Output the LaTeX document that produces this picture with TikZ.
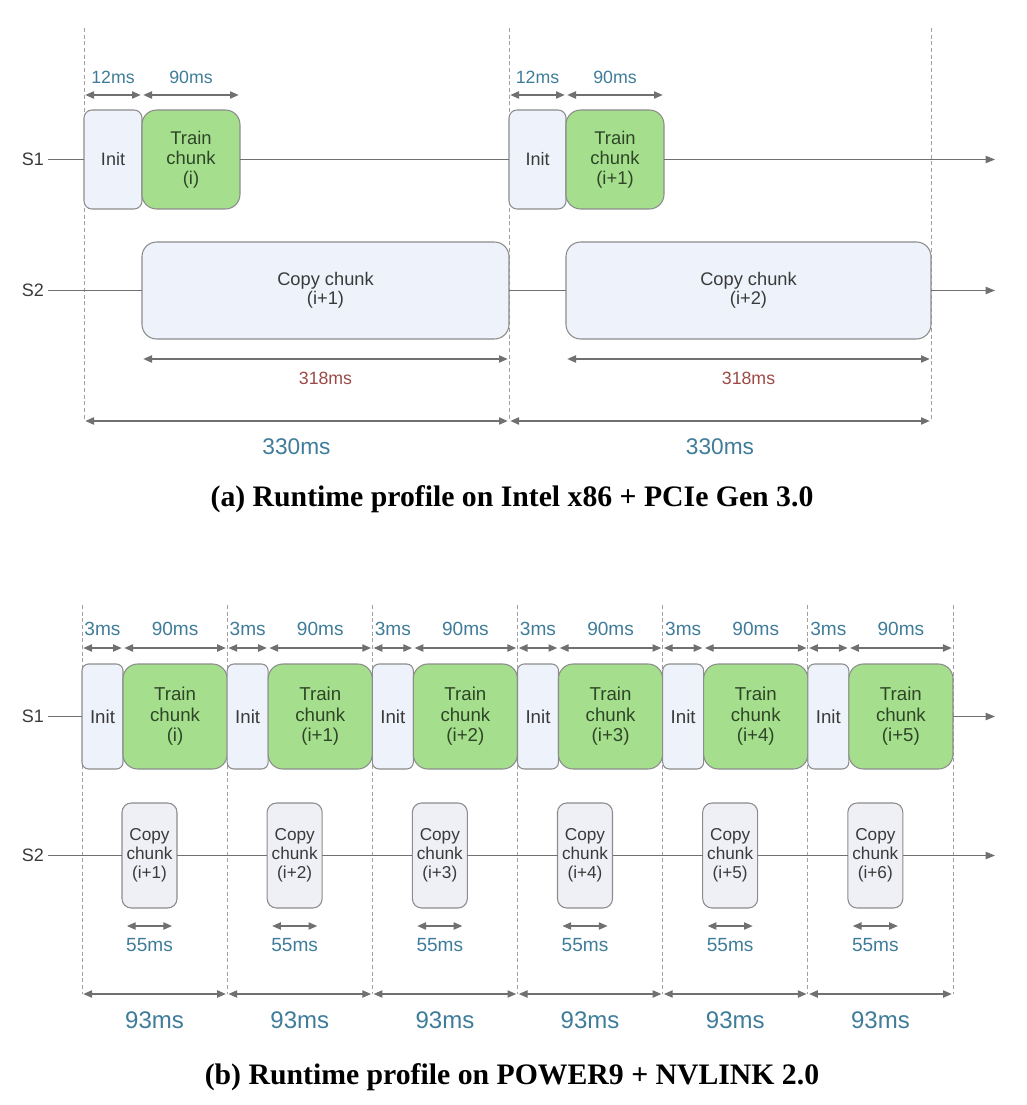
\documentclass[tikz,border=0pt]{standalone}
\usepackage{fontspec}
\setmainfont{Liberation Serif}
\newfontfamily\dfont{Liberation Sans}
\usetikzlibrary{arrows.meta}
\definecolor{boxborder}{HTML}{8C8C8C}
\definecolor{initfill}{HTML}{EEF2FA}
\definecolor{copyfill}{HTML}{EEF3FB}
\definecolor{bcopyfill}{HTML}{EEF0F6}
\definecolor{greenfill}{HTML}{A5DF8D}
\definecolor{greentxt}{HTML}{2E4627}
\definecolor{txtdark}{HTML}{3A3A3A}
\definecolor{lblue}{HTML}{3F7C99}
\definecolor{lred}{HTML}{9C4A47}
\definecolor{linegray}{HTML}{707070}
\definecolor{dashgray}{HTML}{A0A0A0}
\begin{document}
\begin{tikzpicture}[x=0.75pt,y=-0.75pt,
  box/.style={draw=boxborder, line width=0.8pt, inner sep=0pt, outer sep=0pt,
    anchor=north west, align=center, text=txtdark},
  ainit/.style={box, fill=initfill, rounded corners=6pt, minimum height=74.25pt,
    font=\dfont\fontsize{13.5}{15}\selectfont},
  atrain/.style={box, fill=greenfill, rounded corners=11pt, minimum width=73.5pt,
    minimum height=74.25pt, text=greentxt, font=\dfont\fontsize{13.8}{15}\selectfont},
  acopy/.style={box, fill=copyfill, rounded corners=11pt, minimum height=72.75pt,
    font=\dfont\fontsize{13.7}{14.25}\selectfont},
  binit/.style={box, fill=initfill, rounded corners=5pt, minimum width=30.75pt,
    minimum height=78.75pt, font=\dfont\fontsize{14}{15.4}\selectfont},
  btrain/.style={box, fill=greenfill, rounded corners=11pt, minimum width=78.1pt,
    minimum height=78.75pt, text=greentxt, font=\dfont\fontsize{14}{15.4}\selectfont},
  bcopy/.style={box, fill=bcopyfill, rounded corners=7pt, minimum width=41.25pt,
    minimum height=78.75pt, font=\dfont\fontsize{12.9}{14.25}\selectfont},
  stream/.style={font=\dfont\fontsize{13.5}{15}\selectfont, text=txtdark, inner sep=1pt},
  tline/.style={draw=linegray, line width=0.8pt},
  tarrow/.style={tline, -{Triangle[length=7pt,width=5.5pt]}},
  dim/.style={draw=linegray, line width=0.8pt,
    {Triangle[length=6.5pt,width=5.5pt]}-{Triangle[length=6.5pt,width=5.5pt]},
    shorten >=1pt, shorten <=1pt},
  guide/.style={draw=dashgray, dashed, dash pattern=on 3pt off 2pt, line width=0.6pt},
  tl/.style={font=\dfont\fontsize{13.3}{15}\selectfont, text=lblue, inner sep=0pt},
  tlb/.style={font=\dfont\fontsize{14.3}{15}\selectfont, text=lblue, inner sep=0pt},
  tlred/.style={font=\dfont\fontsize{13.3}{15}\selectfont, text=lred, inner sep=0pt},
  tlbig/.style={font=\dfont\fontsize{17}{19}\selectfont, text=lblue, inner sep=0pt},
  tlbigb/.style={font=\dfont\fontsize{18}{20}\selectfont, text=lblue, inner sep=0pt},
  caption/.style={font=\bfseries\fontsize{22.3}{24}\selectfont, inner sep=0pt}
]
\useasboundingbox (0,0) rectangle (1026,1105);

% ---------------- (a) ----------------
\coordinate (gat1) at (84,28);  \coordinate (gab1) at (84,421);
\coordinate (gat2) at (509,28); \coordinate (gab2) at (509,421);
\coordinate (gat3) at (931,28); \coordinate (gab3) at (931,421);
\draw[guide] (gat1) -- (gab1);
\draw[guide] (gat2) -- (gab2);
\draw[guide] (gat3) -- (gab3);

\node[stream] (s1a) at (33,159.5) {S1};
\node[stream] (s2a) at (33,290.5) {S2};
\coordinate (s1aend) at (995,159.5);
\coordinate (s2aend) at (995,290.5);

\node[ainit, minimum width=43.5pt] (ia1) at (84,110) {Init};
\node[atrain] (ta1) at (142,110) {Train\\chunk\\(i)};
\node[ainit, minimum width=42.75pt] (ia2) at (509,110) {Init};
\node[atrain] (ta2) at (566,110) {Train\\chunk\\(i+1)};
\node[acopy, minimum width=275.25pt] (ca1) at (142,242) {Copy chunk\\(i+1)};
\node[acopy, minimum width=273.75pt] (ca2) at (566,242) {Copy chunk\\(i+2)};

\draw[tline] (s1a.east) ++(2pt,0) -- (ia1.west);
\draw[tline] (ta1.east) -- (ia2.west);
\draw[tarrow] (ta2.east) -- (s1aend);
\draw[tline] (s2a.east) ++(2pt,0) -- (ca1.west);
\draw[tline] (ca1.east) -- (ca2.west);
\draw[tarrow] (ca2.east) -- (s2aend);

\draw[dim] ([yshift=11.25pt]ia1.north west) -- node[tl, yshift=13.5pt]{12ms} ([yshift=11.25pt]ia1.north east);
\draw[dim] ([yshift=11.25pt]ta1.north west) -- node[tl, yshift=13.5pt]{90ms} ([yshift=11.25pt]ta1.north east);
\draw[dim] ([yshift=11.25pt]ia2.north west) -- node[tl, yshift=13.5pt]{12ms} ([yshift=11.25pt]ia2.north east);
\draw[dim] ([yshift=11.25pt]ta2.north west) -- node[tl, yshift=13.5pt]{90ms} ([yshift=11.25pt]ta2.north east);

\draw[dim] ([yshift=-15pt]ca1.south west) -- node[tlred, yshift=-14.25pt]{318ms} ([yshift=-15pt]ca1.south east);
\draw[dim] ([yshift=-15pt]ca2.south west) -- node[tlred, yshift=-14.25pt]{318ms} ([yshift=-15pt]ca2.south east);

\draw[dim] (gab1) -- node[tlbig, yshift=-19.5pt]{330ms} (gab2);
\draw[dim] (gab2) -- node[tlbig, yshift=-19.5pt]{330ms} (gab3);

\node[caption] (capa) at (512,499) {(a) Runtime profile on Intel x86 + PCIe Gen 3.0};

% ---------------- (b) ----------------
\foreach \k in {0,...,6} {
  \pgfmathsetmacro\gx{82+145.1667*\k}
  \coordinate (gbt\k) at (\gx,605);
  \coordinate (gbb\k) at (\gx,994);
  \draw[guide] (gbt\k) -- (gbb\k);
}

\node[stream] (s1b) at (33,716.5) {S1};
\node[stream] (s2b) at (33,855.5) {S2};
\coordinate (s1bend) at (995,716.5);
\coordinate (s2bend) at (995,855.5);

\foreach \k in {0,...,5} {
  \pgfmathsetmacro\gx{82+145.1667*\k}
  \pgfmathtruncatemacro\n{\k+1}
  \node[binit] (ib\k) at (\gx,664) {Init};
  \node[btrain] (tb\k) at (\gx+41,664) {Train\\chunk\\(\ifnum\k=0 i\else i+\k\fi)};
  \node[bcopy] (cb\k) at (\gx+40,803) {Copy\\chunk\\(i+\n)};
  \draw[dim] ([yshift=12pt]ib\k.north west) -- node[tlb, yshift=14.25pt]{3ms} ([yshift=12pt]ib\k.north east);
  \draw[dim] ([yshift=12pt]tb\k.north west) -- node[tlb, yshift=14.25pt]{90ms} ([yshift=12pt]tb\k.north east);
  \draw[dim, shorten >=3.75pt, shorten <=3.75pt] ([yshift=-13.5pt]cb\k.south west) -- node[tlb, yshift=-14.25pt]{55ms} ([yshift=-13.5pt]cb\k.south east);
  \draw[dim] (gbb\k) -- node[tlbigb, yshift=-20pt]{93ms} (gbb\n);
}

\draw[tline] (s1b.east) ++(2pt,0) -- (ib0.west);
\draw[tarrow] (tb5.east) -- (s1bend);
\draw[tline] (s2b.east) ++(2pt,0) -- (cb0.west);
\foreach \k in {0,...,4} {
  \pgfmathtruncatemacro\n{\k+1}
  \draw[tline] (cb\k.east) -- (cb\n.west);
}
\draw[tarrow] (cb5.east) -- (s2bend);

\node[caption] (capb) at (512,1077) {(b) Runtime profile on POWER9 + NVLINK 2.0};
\end{tikzpicture}
\end{document}
